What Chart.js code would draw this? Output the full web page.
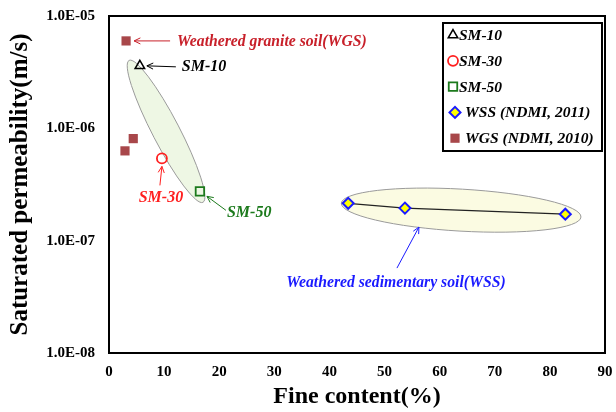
<!DOCTYPE html>
<html>
<head>
<meta charset="utf-8">
<script src="https://cdn.jsdelivr.net/npm/chart.js@4/dist/chart.umd.min.js"></script>
<style>
  html, body { margin: 0; padding: 0; background: #fff; }
  #wrap { width: 616px; height: 412px; }
</style>
</head>
<body>
<div id="wrap"><canvas id="c" width="616" height="412"></canvas></div>
<script>
// data
const sm10 = [{x: 5.6, y: 3.6e-6}];
const sm30 = [{x: 9.6, y: 5.4e-7}];
const sm50 = [{x: 16.5, y: 2.75e-7}];
const wssFines = [43.4, 53.7, 82.8];
const wssK = [2.15e-7, 1.95e-7, 1.72e-7];
const wgsFines = [3.1, 4.4, 2.9];
const wgsK = [6.0e-6, 8.1e-7, 6.3e-7];
const yTicks = [1e-8, 1e-7, 1e-6, 1e-5];

const serif = '"Liberation Serif", "Times New Roman", serif';
const brown = '#a8474a';

function pts(xs, ys) { return xs.map((x, i) => ({x: x, y: ys[i]})); }

function fmtE(v) {
  const e = Math.round(Math.log10(v));
  const s = Math.abs(e) < 10 ? '0' + Math.abs(e) : '' + Math.abs(e);
  return '1.0E' + (e < 0 ? '-' : '+') + s;
}

// ellipses: center in data units, size/angle in px
const ellipses = [
  {x: 10.35, y: 9.4e-7, a: 80, b: 13.5, ang: 62.5, fill: '#eef7e4'},
  {x: 63.9, y: 1.87e-7, a: 120, b: 21, ang: 3.3, fill: '#fbfbe2'}
];

// arrow labels anchored on a data point, offsets in px
const notes = [
  {x: 3.1, y: 6.0e-6, tail: [44, 0], head: [8, 0], txt: [51, 1], align: 'left',
   text: 'Weathered granite soil(WGS)', color: '#c8202a', size: 15.7},
  {x: 5.6, y: 3.6e-6, tail: [36, 1], head: [7, 0], txt: [42, 1], align: 'left',
   text: 'SM-10', color: '#000', size: 16},
  {x: 9.6, y: 5.4e-7, tail: [-2, 27], head: [0, 8], txt: [-1, 39], align: 'center',
   text: 'SM-30', color: '#ff1f1f', size: 16},
  {x: 16.5, y: 2.75e-7, tail: [26, 19], head: [7, 5], txt: [27, 22], align: 'left',
   text: 'SM-50', color: '#1c7a1c', size: 16},
  {x: 53.7, y: 1.95e-7, tail: [-8, 60], head: [14, 19], txt: [-9, 75], align: 'center',
   text: 'Weathered sedimentary soil(WSS)', color: '#1a1aff', size: 15.7}
];

function arrow(ctx, x1, y1, x2, y2, color) {
  ctx.save();
  ctx.strokeStyle = color;
  ctx.lineWidth = 1;
  ctx.beginPath();
  ctx.moveTo(x1, y1);
  ctx.lineTo(x2, y2);
  const ang = Math.atan2(y2 - y1, x2 - x1);
  ctx.moveTo(x2 - 7 * Math.cos(ang - 0.45), y2 - 7 * Math.sin(ang - 0.45));
  ctx.lineTo(x2, y2);
  ctx.lineTo(x2 - 7 * Math.cos(ang + 0.45), y2 - 7 * Math.sin(ang + 0.45));
  ctx.stroke();
  ctx.restore();
}

const extras = {
  id: 'extras',
  beforeDatasetsDraw(chart) {
    const ctx = chart.ctx, xs = chart.scales.x, ys = chart.scales.y;
    ellipses.forEach(e => {
      ctx.save();
      ctx.beginPath();
      ctx.ellipse(xs.getPixelForValue(e.x), ys.getPixelForValue(e.y), e.a, e.b,
        e.ang * Math.PI / 180, 0, Math.PI * 2);
      ctx.fillStyle = e.fill;
      ctx.fill();
      ctx.strokeStyle = '#9a9a9a';
      ctx.lineWidth = 1;
      ctx.stroke();
      ctx.restore();
    });
  },
  afterDraw(chart) {
    const ctx = chart.ctx, xs = chart.scales.x, ys = chart.scales.y;
    const a = chart.chartArea;
    // frame
    ctx.save();
    ctx.strokeStyle = '#000';
    ctx.lineWidth = 2;
    ctx.strokeRect(a.left, a.top, a.right - a.left, a.bottom - a.top);
    ctx.restore();

    notes.forEach(n => {
      const px = xs.getPixelForValue(n.x), py = ys.getPixelForValue(n.y);
      arrow(ctx, px + n.tail[0], py + n.tail[1], px + n.head[0], py + n.head[1], n.color);
      ctx.save();
      ctx.font = 'italic bold ' + n.size + 'px ' + serif;
      ctx.fillStyle = n.color;
      ctx.textAlign = n.align;
      ctx.textBaseline = 'middle';
      ctx.fillText(n.text, px + n.txt[0], py + n.txt[1]);
      ctx.restore();
    });

    // legend box
    const lx = 443, ly = 23, lw = 159, lh = 128;
    ctx.save();
    ctx.fillStyle = '#fff';
    ctx.fillRect(lx, ly, lw, lh);
    ctx.strokeStyle = '#000';
    ctx.lineWidth = 2;
    ctx.strokeRect(lx, ly, lw, lh);
    ctx.font = 'italic bold 15.5px ' + serif;
    ctx.textBaseline = 'middle';
    ctx.fillStyle = '#000';
    chart.data.datasets.forEach((ds, i) => {
      const y = ly + 12 + i * 25.8;
      const wide = ds.label.startsWith('W');
      ctx.save();
      ctx.fillStyle = ds.pointBackgroundColor;
      ctx.strokeStyle = ds.pointBorderColor;
      ctx.lineWidth = ds.pointBorderWidth;
      Chart.helpers.drawPoint(ctx, {pointStyle: ds.pointStyle, radius: ds.pointRadius,
        rotation: 0, borderWidth: ds.pointBorderWidth}, wide ? 455 : 453, y);
      ctx.restore();
      ctx.fillText(ds.label, wide ? 465 : 459, y + 1);
    });
    ctx.restore();
  }
};

new Chart(document.getElementById('c'), {
  type: 'scatter',
  data: {
    datasets: [
      {label: 'SM-10', data: sm10, pointStyle: 'triangle', pointRadius: 5.5,
       pointBorderColor: '#000', pointBackgroundColor: 'rgba(0,0,0,0)', pointBorderWidth: 1.5},
      {label: 'SM-30', data: sm30, pointStyle: 'circle', pointRadius: 5,
       pointBorderColor: '#ff1f1f', pointBackgroundColor: 'rgba(0,0,0,0)', pointBorderWidth: 1.8},
      {label: 'SM-50', data: sm50, pointStyle: 'rect', pointRadius: 6,
       pointBorderColor: '#1c7a1c', pointBackgroundColor: 'rgba(0,0,0,0)', pointBorderWidth: 1.8},
      {label: 'WSS (NDMI, 2011)', data: pts(wssFines, wssK), pointStyle: 'rectRot', pointRadius: 5.5,
       pointBorderColor: '#1a1aff', pointBackgroundColor: '#ffff00', pointBorderWidth: 2,
       showLine: true, borderColor: '#222', borderWidth: 1.2},
      {label: 'WGS (NDMI, 2010)', data: pts(wgsFines, wgsK), pointStyle: 'rect', pointRadius: 6.5,
       pointBorderColor: brown, pointBackgroundColor: brown, pointBorderWidth: 0}
    ]
  },
  options: {
    responsive: false,
    animation: false,
    layout: {padding: {left: 0, top: 16, right: 11, bottom: 0}},
    plugins: {legend: {display: false}, tooltip: {enabled: false}},
    scales: {
      x: {
        type: 'linear', min: 0, max: 90,
        grid: {display: false, drawTicks: false}, border: {display: false},
        ticks: {stepSize: 10, color: '#000', padding: 10, maxRotation: 0,
          font: {family: serif, size: 15, weight: 'bold'}},
        title: {display: true, text: 'Fine content(%)', color: '#000',
          font: {family: serif, size: 24, weight: 'bold'}, padding: {top: 0, bottom: 1}},
        afterFit(s) { s.height = 59; s.paddingLeft = 0; s.paddingRight = 0; }
      },
      y: {
        type: 'logarithmic', min: 1e-8, max: 1e-5,
        grid: {display: false, drawTicks: false}, border: {display: false},
        afterBuildTicks(s) { s.ticks = yTicks.map(v => ({value: v, major: true})); },
        ticks: {color: '#000', padding: 14, callback: v => fmtE(v),
          font: {family: serif, size: 15, weight: 'bold'}},
        title: {display: true, text: 'Saturated permeability(m/s)', color: '#000',
          font: {family: serif, size: 25, weight: 'bold'}, padding: {top: 6, bottom: 0}},
        afterFit(s) { s.width = 109; s.paddingTop = 0; s.paddingBottom = 0; }
      }
    }
  },
  plugins: [extras]
});
</script>
</body>
</html>
